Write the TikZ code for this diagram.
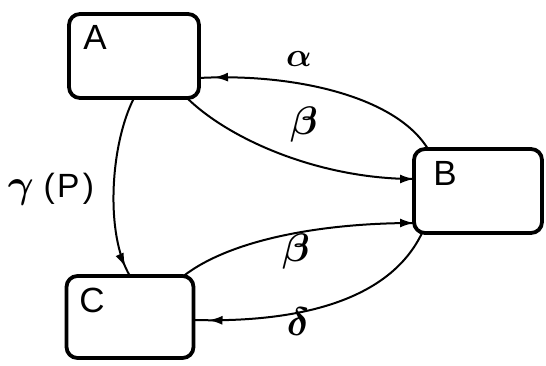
\documentclass[tikz,border=0pt]{standalone}
\usepackage{fontspec}
\usepackage{bm}
\setsansfont{Liberation Sans}
\usetikzlibrary{arrows.meta,decorations.markings}
\begin{document}
\begin{tikzpicture}[x=1pt,y=1pt,
  statebox/.style={draw,line width=3.8pt,rounded corners=11pt,inner sep=0pt,outer sep=0pt},
  boxlabel/.style={font=\sffamily\fontsize{35pt}{38pt}\selectfont},
  greek/.style={font=\fontsize{24.88pt}{26pt}\selectfont,scale=#1,transform shape},
  greek/.default=1.6,
  conn/.style={line width=2pt},
  tipend/.style={postaction={decorate},decoration={markings,
      mark=at position 1 with {\arrow{Latex[length=14pt,width=9pt]}}}},
  tipat/.style={postaction={decorate},decoration={markings,
      mark=at position #1 with {\arrow{Latex[length=14pt,width=9pt]}}}}]
\useasboundingbox (0,0) rectangle (546,365);

% the three states
\node[statebox,minimum width=130pt,minimum height=84pt] (A) at (134,309) {};
\node[statebox,minimum width=128pt,minimum height=84pt] (B) at (478,174) {};
\node[statebox,minimum width=127pt,minimum height=82pt] (C) at (130,48) {};
\node[boxlabel] (la) at (95,328) {A};
\node[boxlabel] (lb) at (445,192) {B};
\node[boxlabel] (lc) at (92,65) {C};

% transitions
\draw[conn,tipat=-15pt] ([xshift=14pt]B.north west)
  .. controls (395,270) and (290,292) .. ([yshift=-22pt]A.east);
\draw[conn,tipend] ([xshift=-12pt]A.south east)
  .. controls (230,225) and (320,186) .. ([yshift=12pt]B.west);
\draw[conn,tipend] ([xshift=-10pt]C.north east)
  .. controls (230,125) and (320,142) .. ([yshift=-32pt]B.west);
\draw[conn,tipat=-15pt] ([xshift=8pt]B.south west)
  .. controls (390,65) and (300,42) .. ([yshift=-3pt]C.east);
\draw[conn,tipat=-10pt] (A.south)
  .. controls (110,220) and (105,130) .. (C.north);

% transition labels
\node[greek=1.35] (alpha) at (299,306) {$\bm\alpha$};
\node[greek] (beta1) at (304,240) {$\bm\beta$};
\node[greek] (beta2) at (296,113) {$\bm\beta$};
\node[greek] (delta) at (298,43) {$\bm\delta$};
\node[greek] (gam) at (51,176)
  {$\bm\gamma$\kern6pt{\sffamily\fontsize{21pt}{23pt}\selectfont(\kern1.5pt P\kern2pt)}};
\end{tikzpicture}
\end{document}
